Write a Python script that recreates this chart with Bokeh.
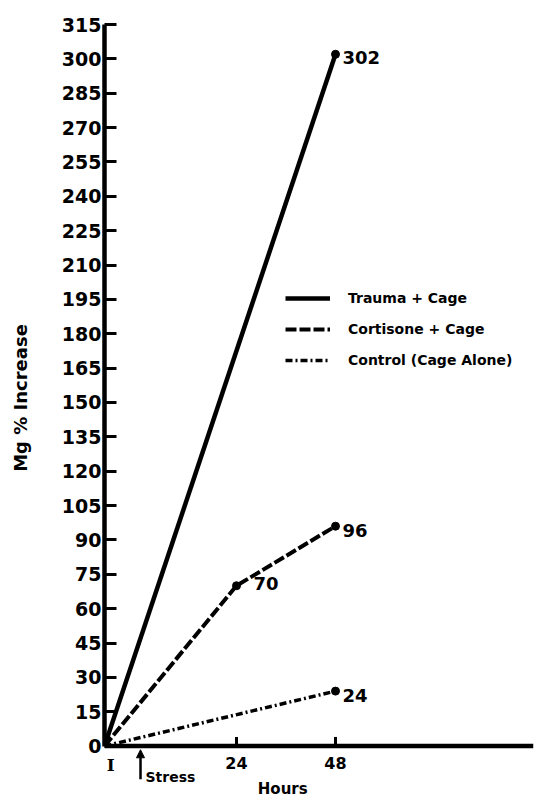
import math
from bokeh.plotting import figure
from bokeh.models import (Range1d, FixedTicker, Legend, LegendItem, Label, Arrow,
                          NormalHead, ColumnDataSource, Span)
from bokeh.core.properties import value
from bokeh.embed import file_html
from bokeh.resources import INLINE

# ---- data ----
initial_hour = -8
trauma_hours = [initial_hour, 48]
trauma_vals = [0, 302]
cortisone_hours = [initial_hour, 24, 48]
cortisone_vals = [0, 70, 96]
control_hours = [initial_hour, 48]
control_vals = [0, 24]
y_ticks = list(range(0, 316, 15))
x_ticks = [24, 48]
x_tick_labels = ["24", "48"]
stress_hour = 0.73

FONT = "DejaVu Sans"

p = figure(width=543, height=798, x_range=Range1d(-8, 96), y_range=Range1d(-22, 315),
           x_axis_type=None, output_backend="svg", toolbar_location=None,
           min_border_left=104, min_border_right=10, min_border_top=24, min_border_bottom=2)
p.outline_line_color = None
p.xgrid.visible = False
p.ygrid.visible = False
p.background_fill_color = "white"

# y axis
ax = p.yaxis[0]
ax.bounds = (0, 315)
ax.axis_line_width = 4.5
ax.axis_line_color = "black"
ax.major_tick_line_width = 3
ax.major_tick_line_color = "black"
ax.major_tick_out = 0
ax.major_tick_in = 12
ax.minor_tick_line_color = None
ax.ticker = FixedTicker(ticks=y_ticks)
ax.major_label_text_font = FONT
ax.major_label_text_font_style = "bold"
ax.major_label_text_color = "black"
ax.major_label_text_font_size = "19px"
ax.major_label_standoff = 3
# leading no-break spaces lift the visible label to the centre of the 0-315 scale
ax.axis_label = "\u00a0\u00a0\u00a0\u00a0Mg % Increase"
ax.axis_label_text_font = FONT
ax.axis_label_text_font_style = "bold"
ax.axis_label_text_font_size = "18px"
ax.axis_label_text_color = "black"
ax.axis_label_standoff = 28

# x axis (drawn at y = 0)
p.add_layout(Span(location=0, dimension="width", line_color="black", line_width=4.5))
p.segment(x0=x_ticks, y0=[0] * len(x_ticks), x1=x_ticks, y1=[4] * len(x_ticks),
          line_width=3, line_color="black")
p.text(x=x_ticks, y=[0] * len(x_ticks), text=x_tick_labels, y_offset=11,
       text_font=value(FONT), text_font_style="bold", text_font_size="16px",
       text_align="center", text_baseline="top", text_color="black")

# series
r_trauma = p.line(trauma_hours, trauma_vals, line_width=4.5, line_color="black")
r_cort = p.line(cortisone_hours, cortisone_vals, line_width=4, line_color="black",
                line_dash="11 3")
r_ctrl = p.line(control_hours, control_vals, line_width=3.5, line_color="black",
                line_dash="7 3 2 3")

p.scatter(trauma_hours[1:], trauma_vals[1:], size=8, color="black")
p.scatter(cortisone_hours[1:], cortisone_vals[1:], size=8, color="black")
p.scatter(control_hours[1:], control_vals[1:], size=8, color="black")

# value labels
lab = ColumnDataSource(dict(
    x=[trauma_hours[-1], cortisone_hours[-1], cortisone_hours[1], control_hours[-1]],
    y=[trauma_vals[-1], cortisone_vals[-1], cortisone_vals[1], control_vals[-1]],
    t=[str(trauma_vals[-1]), str(cortisone_vals[-1]), str(cortisone_vals[1]), str(control_vals[-1])],
    xo=[7, 7, 17, 7],
    yo=[3, 4, -2, 4],
))
p.text(x="x", y="y", text="t", x_offset="xo", y_offset="yo", source=lab,
       text_font=value(FONT), text_font_style="bold", text_font_size="18px",
       text_baseline="middle", text_align="left", text_color="black")

# legend
legend = Legend(items=[
    LegendItem(label="Trauma + Cage", renderers=[r_trauma]),
    LegendItem(label="Cortisone + Cage", renderers=[r_cort]),
    LegendItem(label="Control (Cage Alone)", renderers=[r_ctrl]),
], location=(181, 426), padding=0, margin=0, spacing=11, glyph_width=45,
   glyph_height=20, label_standoff=18, border_line_color=None,
   background_fill_alpha=0, label_text_font=FONT, label_text_font_style="bold",
   label_text_font_size="14px", label_text_color="black")
p.add_layout(legend, "center")

# annotations below the x axis
p.add_layout(Label(x=-6.5, y=-8.3, text="I", text_color="black",
                   text_font="DejaVu Serif", text_font_style="bold",
                   text_font_size="17px", text_align="center", text_baseline="middle"))
p.add_layout(Arrow(x_start=stress_hour, y_start=-14.5, x_end=stress_hour, y_end=-1.6,
                   line_width=2.5, line_color="black",
                   end=NormalHead(size=8, fill_color="black", line_color="black")))
p.add_layout(Label(x=stress_hour, y=-13.6, x_offset=5, text="Stress", text_color="black",
                   text_font=FONT, text_font_style="bold", text_font_size="14px",
                   text_align="left", text_baseline="middle"))
p.add_layout(Label(x=35.2, y=-18.6, text="Hours", text_color="black",
                   text_font=FONT, text_font_style="bold", text_font_size="15px",
                   text_align="center", text_baseline="middle"))

open("out.html", "w").write(file_html(p, INLINE))
